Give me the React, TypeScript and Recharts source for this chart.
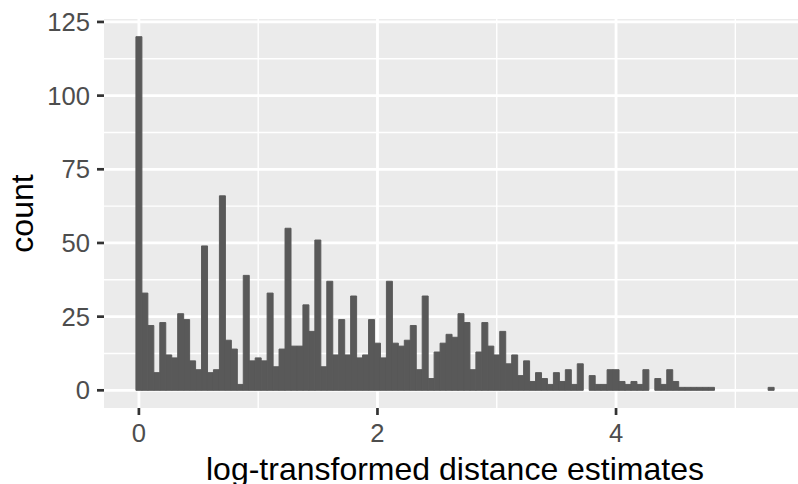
import { BarChart, Bar, XAxis, YAxis, CartesianGrid } from 'recharts'

// histogram counts, bins of width 0.05 centred on 0, 0.05, 0.10 ... 5.30
const binWidth = 0.05
const counts = [
  120, 33, 22, 6, 23, 12, 11, 26, 24, 10,
  7, 49, 6, 7, 66, 17, 14, 2, 39, 10,
  11, 10, 33, 8, 14, 55, 15, 15, 29, 20,
  51, 8, 37, 12, 24, 12, 32, 11, 12, 24,
  16, 11, 37, 16, 15, 17, 22, 7, 32, 4,
  13, 16, 19, 18, 26, 23, 7, 13, 23, 15,
  12, 20, 9, 12, 5, 10, 3, 6, 4, 2,
  6, 3, 7, 2, 9, 0, 5, 2, 2, 7,
  7, 3, 2, 3, 2, 7, 0, 4, 2, 7,
  3, 1, 1, 1, 1, 1, 1, 0, 0, 0,
  0, 0, 0, 0, 0, 0, 1,
]

const xTicks = [0, 2, 4]
const xMinor = [1, 3, 5]
const yTicks = [0, 25, 50, 75, 100, 125]
const yMinor = [12.5, 37.5, 62.5, 87.5, 112.5]

const data = counts.map((count, i) => ({
  x: Math.round(i * binWidth * 100) / 100,
  count,
}))

const font = '"Liberation Sans", Arial, sans-serif'
const tickStyle = { fill: '#4D4D4D', fontSize: 25.6, fontFamily: font }

export default function App() {
  return (
    <div
      style={{
        position: 'absolute',
        left: 0,
        top: 0,
        width: 798,
        height: 484,
        overflow: 'hidden',
        background: '#fff',
      }}
    >
      <BarChart
        width={806}
        height={484}
        data={data}
        margin={{ top: 19, right: 0, bottom: 0, left: 0 }}
        barCategoryGap={0}
        barGap={0}
      >
        <CartesianGrid
          fill="#EBEBEB"
          stroke="#FFFFFF"
          strokeWidth={1.4}
          horizontalValues={yMinor}
          verticalValues={xMinor}
        />
        <CartesianGrid
          stroke="#FFFFFF"
          strokeWidth={2.8}
          horizontalValues={yTicks}
          verticalValues={xTicks}
        />
        <XAxis
          dataKey="x"
          type="number"
          domain={[-0.2925, 5.5925]}
          ticks={xTicks}
          allowDataOverflow
          height={76}
          axisLine={false}
          tickSize={7}
          tickMargin={9}
          tickLine={{ stroke: '#333333', strokeWidth: 2.7 }}
          tick={tickStyle}
        />
        <YAxis
          type="number"
          domain={[-6, 126]}
          ticks={yTicks}
          allowDataOverflow
          width={104}
          axisLine={false}
          tickSize={7}
          tickMargin={7}
          tickLine={{ stroke: '#333333', strokeWidth: 2.7 }}
          tick={tickStyle}
        />
        {/* stroke closes the 1px gaps left by recharts' integer bar width */}
        <Bar
          dataKey="count"
          fill="#595959"
          stroke="#595959"
          strokeWidth={0.96}
          isAnimationActive={false}
        />
      </BarChart>
      <svg
        width={798}
        height={484}
        style={{ position: 'absolute', left: 0, top: 0, pointerEvents: 'none' }}
      >
        <text x={455} y={480} textAnchor="middle" fontSize={32} fontFamily={font} fill="#000">
          log-transformed distance estimates
        </text>
        <text
          transform="translate(33,213.5) rotate(-90)"
          textAnchor="middle"
          fontSize={32}
          fontFamily={font}
          fill="#000"
        >
          count
        </text>
      </svg>
    </div>
  )
}
